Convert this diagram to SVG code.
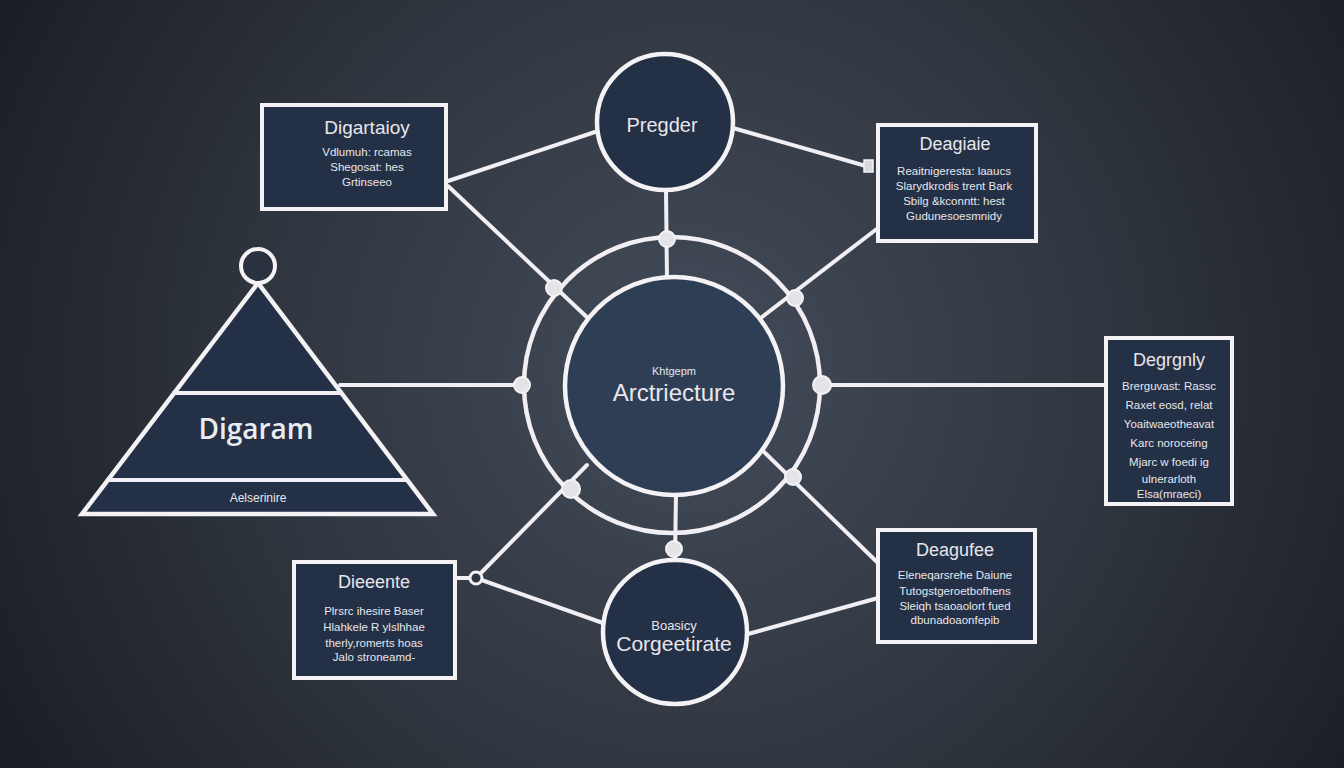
<svg xmlns="http://www.w3.org/2000/svg" width="1344" height="768" viewBox="0 0 1344 768">
<defs>
<radialGradient id="bg" cx="690" cy="370" r="760" gradientUnits="userSpaceOnUse">
<stop offset="0" stop-color="#434c5a"/>
<stop offset="0.55" stop-color="#30363f"/>
<stop offset="1" stop-color="#1c2026"/>
</radialGradient>
<style>
.ln{stroke:#f1eff3;stroke-width:4;fill:none;stroke-linecap:round}
.box{fill:#233045;stroke:#f4f2f5;stroke-width:4}
.shape{fill:#233045;stroke:#f4f2f5;stroke-width:4.5}
.dot{fill:#e4e4e8;stroke:#f4f2f5;stroke-width:2}
.t{font-family:"Liberation Sans",Arial,sans-serif;fill:#e8e6ec;text-anchor:middle}
.ti{font-size:19px}
.tb{font-size:11.5px}
</style>
</defs>
<rect width="1344" height="768" fill="url(#bg)"/>

<g id="connectors">
<line class="ln" x1="448" y1="181" x2="598" y2="131"/>
<line class="ln" x1="448" y1="186" x2="592" y2="322"/>
<line class="ln" x1="733" y1="128" x2="866" y2="166"/>
<line class="ln" x1="666" y1="190" x2="667" y2="281"/>
<line class="ln" x1="878" y1="228" x2="758" y2="320"/>
<line class="ln" x1="340" y1="385" x2="522" y2="385"/>
<line class="ln" x1="822" y1="385" x2="1105" y2="385"/>
<line class="ln" x1="878" y1="563" x2="762" y2="450"/>
<line class="ln" x1="587" y1="465" x2="476" y2="578"/>
<line class="ln" x1="676" y1="493" x2="675" y2="560"/>
<line class="ln" x1="476" y1="578" x2="603" y2="623"/>
<line class="ln" x1="748" y1="634" x2="878" y2="598"/>
<line class="ln" x1="456" y1="578" x2="470" y2="578"/>
</g>

<g id="hub">
<circle cx="672" cy="385" r="148" fill="none" stroke="#f1eff3" stroke-width="4.5"/>
<circle cx="674" cy="386" r="109" fill="#2e3e54" stroke="#f4f2f5" stroke-width="4.5"/>
<text class="t" x="674" y="375" font-size="11">Khtgepm</text>
<text class="t" x="674" y="401" font-size="24">Arctriecture</text>
</g>

<g id="ring-dots">
<circle class="dot" cx="667" cy="239" r="8"/>
<circle class="dot" cx="554" cy="288" r="8"/>
<circle class="dot" cx="795" cy="298" r="8"/>
<circle class="dot" cx="522" cy="385" r="8"/>
<circle class="dot" cx="822" cy="385" r="9"/>
<circle class="dot" cx="571" cy="489" r="9"/>
<circle class="dot" cx="793" cy="477" r="8"/>
<circle class="dot" cx="674" cy="549" r="8"/>
<circle cx="476" cy="578" r="6" fill="#2e3644" stroke="#f4f2f5" stroke-width="3"/>
<rect x="864" y="160" width="9" height="12" fill="#d8d8dc" stroke="#f4f2f5" stroke-width="1.5"/>
</g>

<g id="top-circle">
<circle class="shape" cx="665" cy="122" r="68"/>
<text class="t" x="662" y="132" font-size="20">Pregder</text>
</g>

<g id="bottom-circle">
<circle class="shape" cx="675" cy="632" r="72"/>
<text class="t" x="674" y="630" font-size="13">Boasicy</text>
<text class="t" x="674" y="651" font-size="21">Corgeetirate</text>
</g>

<g id="pyramid">
<polygon class="shape" points="258,283 82,514 433,514" stroke-linejoin="miter"/>
<line class="ln" x1="174" y1="393" x2="341" y2="393"/>
<line class="ln" x1="108" y1="480" x2="407" y2="480"/>
<circle cx="258" cy="266" r="17" fill="#2a3240" stroke="#f4f2f5" stroke-width="4"/>
<text x="256" y="439" font-family="'Open Sans','Liberation Sans',sans-serif" font-size="28" font-weight="600" fill="#ecebef" text-anchor="middle">Digaram</text>
<text class="t" x="258" y="502" font-size="12">Aelserinire</text>
</g>

<g id="box-top-left">
<rect class="box" x="262" y="105" width="184" height="104"/>
<text class="t ti" x="367" y="134">Digartaioy</text>
<text class="t tb" x="367" y="156">Vdlumuh: rcamas</text>
<text class="t tb" x="367" y="171">Shegosat: hes</text>
<text class="t tb" x="367" y="186">Grtinseeo</text>
</g>

<g id="box-top-right">
<rect class="box" x="878" y="125" width="158" height="116"/>
<text class="t" x="955" y="150" font-size="18">Deagiaie</text>
<text class="t tb" x="954" y="175">Reaitnigeresta: laaucs</text>
<text class="t tb" x="954" y="190">Slarydkrodis trent Bark</text>
<text class="t tb" x="954" y="205">Sbilg &amp;kconntt: hest</text>
<text class="t tb" x="954" y="220">Gudunesoesmnidy</text>
</g>

<g id="box-right">
<rect class="box" x="1106" y="338" width="126" height="166"/>
<text class="t" x="1169" y="366" font-size="18">Degrgnly</text>
<text class="t tb" x="1169" y="390">Brerguvast: Rassc</text>
<text class="t tb" x="1169" y="409">Raxet eosd, relat</text>
<text class="t tb" x="1169" y="428">Yoaitwaeotheavat</text>
<text class="t tb" x="1169" y="447">Karc noroceing</text>
<text class="t tb" x="1169" y="466">Mjarc w foedi ig</text>
<text class="t tb" x="1169" y="483">ulnerarloth</text>
<text class="t tb" x="1169" y="498">Elsa(mraeci)</text>
</g>

<g id="box-bottom-right">
<rect class="box" x="878" y="530" width="157" height="112"/>
<text class="t" x="955" y="556" font-size="18">Deagufee</text>
<text class="t tb" x="955" y="579">Eleneqarsrehe Daiune</text>
<text class="t tb" x="955" y="595">Tutogstgeroetbofhens</text>
<text class="t tb" x="955" y="610">Sleiqh tsaoaolort fued</text>
<text class="t tb" x="955" y="624">dbunadoaonfepib</text>
</g>

<g id="box-bottom-left">
<rect class="box" x="294" y="562" width="161" height="116"/>
<text class="t" x="374" y="588" font-size="18">Dieeente</text>
<text class="t tb" x="374" y="615">Plrsrc ihesire Baser</text>
<text class="t tb" x="374" y="631">Hlahkele R ylslhhae</text>
<text class="t tb" x="374" y="647">therly,romerts hoas</text>
<text class="t tb" x="374" y="661">Jalo stroneamd-</text>
</g>
</svg>
